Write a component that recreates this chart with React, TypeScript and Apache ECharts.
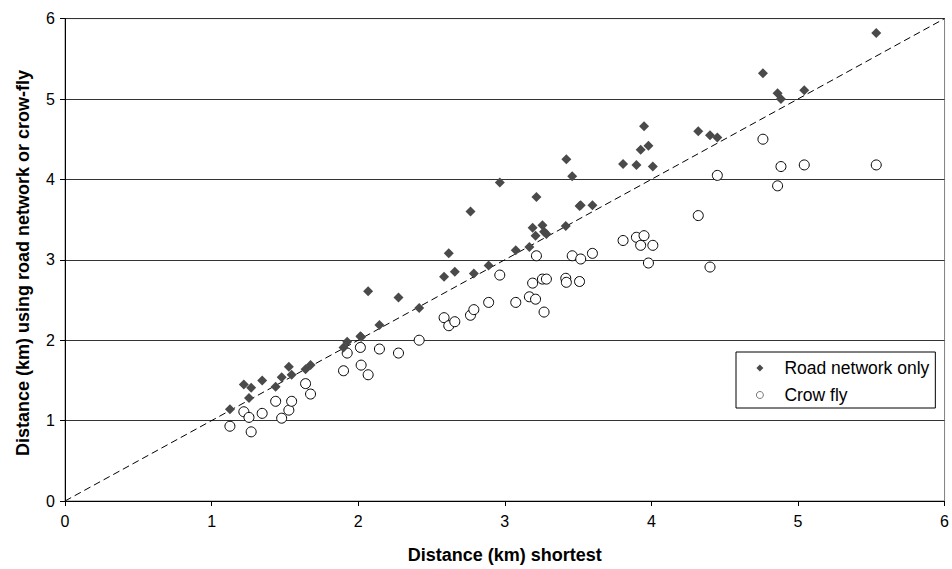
import React, { useEffect, useRef } from "react";
import * as echarts from "echarts";

const shortestKm = [
  1.125, 1.22, 1.255, 1.27, 1.345, 1.437, 1.478, 1.527, 1.546, 1.641, 1.675,
  1.9, 1.925, 2.015, 2.02, 2.068, 2.145, 2.275, 2.416, 2.586, 2.618, 2.659,
  2.766, 2.789, 2.89, 2.966, 3.075, 3.168, 3.19, 3.21, 3.216, 3.257, 3.268,
  3.284, 3.416, 3.42, 3.46, 3.51, 3.518, 3.598, 3.807, 3.898, 3.927, 3.95,
  3.98, 4.01, 4.32, 4.4, 4.45, 4.761, 4.861, 4.884, 5.043, 5.534,
];
const roadNetworkKm = [
  1.14, 1.45, 1.28, 1.41, 1.5, 1.42, 1.54, 1.67, 1.57, 1.64, 1.69,
  1.91, 1.98, 2.05, 2.04, 2.61, 2.19, 2.53, 2.4, 2.79, 3.08, 2.85,
  3.6, 2.83, 2.93, 3.96, 3.12, 3.16, 3.4, 3.3, 3.78, 3.43, 3.35,
  3.32, 3.42, 4.25, 4.04, 3.67, 3.68, 3.68, 4.19, 4.18, 4.37, 4.66,
  4.42, 4.16, 4.6, 4.55, 4.52, 5.32, 5.07, 5.0, 5.11, 5.82,
];
const crowFlyKm = [
  0.93, 1.11, 1.04, 0.86, 1.09, 1.24, 1.03, 1.13, 1.24, 1.46, 1.33,
  1.62, 1.84, 1.91, 1.69, 1.57, 1.89, 1.84, 2.0, 2.28, 2.18, 2.23,
  2.31, 2.38, 2.47, 2.81, 2.47, 2.54, 2.71, 2.51, 3.05, 2.76, 2.35,
  2.76, 2.77, 2.72, 3.05, 2.73, 3.01, 3.08, 3.24, 3.28, 3.18, 3.3,
  2.96, 3.18, 3.55, 2.91, 4.05, 4.5, 3.92, 4.16, 4.18, 4.18,
];
const equalityLine = [
  [0, 0],
  [6, 6],
];
const seriesNames = ["Road network only", "Crow fly"];
const xTitle = "Distance (km) shortest";
const yTitle = "Distance (km) using road network or crow-fly";

const FONT = '"Liberation Sans", Arial, sans-serif';

export default function App() {
  const ref = useRef<HTMLDivElement>(null);
  useEffect(() => {
    document.body.style.margin = "0";
    if (!ref.current) return;
    const chart = echarts.init(ref.current, null, { renderer: "svg" });
    const road = shortestKm.map((x, i) => [x, roadNetworkKm[i]]);
    const crow = shortestKm.map((x, i) => [x, crowFlyKm[i]]);
    chart.setOption({
      animation: false,
      backgroundColor: "#fff",
      textStyle: { fontFamily: FONT },
      grid: {
        left: 65,
        right: 7,
        top: 18.6,
        bottom: 68,
        show: true,
        borderColor: "#808080",
        borderWidth: 1,
        backgroundColor: "transparent",
      },
      graphic: [
        {
          type: "text",
          x: 23,
          y: 263,
          rotation: Math.PI / 2,
          style: {
            text: yTitle,
            fontFamily: FONT,
            fontSize: 18,
            fontWeight: "bold",
            fill: "#000",
            align: "center",
            verticalAlign: "middle",
          },
        },
      ],
      legend: {
        orient: "vertical",
        left: 736,
        top: 352,
        data: [
          {
            name: seriesNames[0],
            icon: "diamond",
            itemStyle: { color: "#4a4a4a", borderWidth: 0 },
          },
          {
            name: seriesNames[1],
            icon: "circle",
            itemStyle: { color: "#fff", borderColor: "#555", borderWidth: 0.8 },
          },
        ],
        itemWidth: 7,
        itemHeight: 7,
        itemGap: 9,
        padding: [7, 6, 4, 20],
        borderColor: "#000",
        borderWidth: 1,
        borderRadius: 0,
        backgroundColor: "#fff",
        textStyle: {
          fontFamily: FONT,
          fontSize: 17.5,
          color: "#000",
          padding: [0, 0, 0, 16],
        },
      },
      xAxis: {
        type: "value",
        min: 0,
        max: 6,
        interval: 1,
        name: xTitle,
        nameLocation: "middle",
        nameGap: 45,
        nameTextStyle: {
          fontFamily: FONT,
          fontSize: 18,
          fontWeight: "bold",
          color: "#000",
        },
        axisLine: { lineStyle: { color: "#000", width: 1 } },
        axisTick: { show: true, length: 5, lineStyle: { color: "#000" } },
        axisLabel: { fontFamily: FONT, fontSize: 16, color: "#000", margin: 12 },
        splitLine: { show: false },
      },
      yAxis: {
        type: "value",
        min: 0,
        max: 6,
        interval: 1,
        axisLine: { show: true, lineStyle: { color: "#000", width: 1 } },
        axisTick: { show: true, length: 5, lineStyle: { color: "#000" } },
        axisLabel: { fontFamily: FONT, fontSize: 16, color: "#000", margin: 10 },
        splitLine: { show: true, lineStyle: { color: "#333", width: 1 } },
      },
      series: [
        {
          type: "line",
          data: equalityLine,
          symbol: "none",
          silent: true,
          z: 1,
          lineStyle: { color: "#000", width: 1, type: [7, 4] },
        },
        {
          name: seriesNames[0],
          type: "scatter",
          data: road,
          symbol: "diamond",
          symbolSize: 10,
          z: 3,
          itemStyle: { color: "#4a4a4a", opacity: 1 },
        },
        {
          name: seriesNames[1],
          type: "scatter",
          data: crow,
          symbol: "circle",
          symbolSize: 10,
          z: 2,
          itemStyle: { color: "#fff", borderColor: "#000", borderWidth: 1, opacity: 1 },
        },
      ],
    });
    return () => chart.dispose();
  }, []);
  return <div ref={ref} style={{ width: 952, height: 569 }} />;
}
